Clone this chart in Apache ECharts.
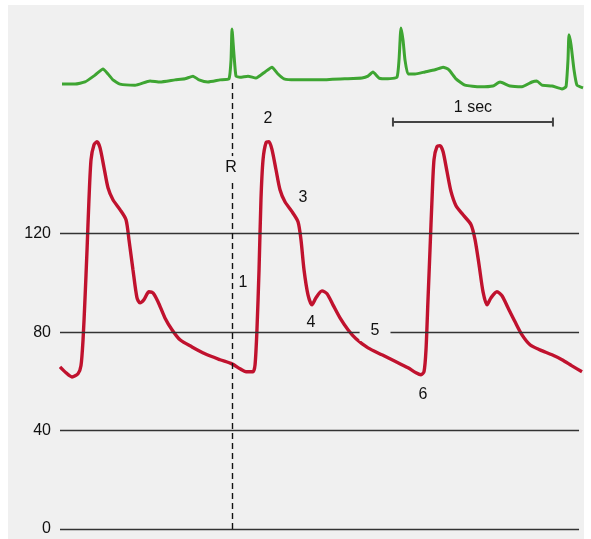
<!DOCTYPE html>
<html><head><meta charset="utf-8">
<script src="https://cdn.jsdelivr.net/npm/echarts@6/dist/echarts.min.js"></script>
<style>
html,body{margin:0;padding:0;background:#fff;}
#wrap{position:relative;width:591px;height:539px;background:#fff;}
#bg{position:absolute;left:8px;top:5px;width:576px;height:534px;background:#f0f0f0;}
#chart{position:absolute;left:0;top:0;width:591px;height:539px;}
</style></head>
<body><div id="wrap"><div id="bg"></div><div id="chart"></div></div>
<script>
// Time in seconds, pressure in mmHg
const pressureT = [0,.0375,.075,.1125,.131,.144,.156,.169,.181,.194,.2125,.231,.25,.275,.3,.331,.375,.4125,.431,.456,.481,.5,.525,.556,.581,.6125,.656,.7,.75,.825,.906,1.0,1.075,1.125,1.1625,1.206,1.219,
 1.231,1.244,1.256,1.269,1.2875,1.306,1.325,1.35,1.375,1.406,1.45,1.4875,1.506,1.525,1.55,1.575,1.6,1.6375,1.669,1.706,1.75,1.8,1.85,1.925,2.0125,2.1,2.175,2.225,2.256,2.275,
 2.2875,2.3,2.3125,2.325,2.3375,2.356,2.375,2.394,2.419,2.444,2.475,2.519,2.569,2.594,2.619,2.644,2.669,2.694,2.731,2.7625,2.8,2.844,2.8875,2.9375,3.0,3.075,3.1375,3.2,3.2625];
const pressureV = [65.9,63.5,61.8,63.1,66.3,76.9,93.2,113.5,133.8,150.1,156.2,157.4,155,146.9,138.7,133.8,129.8,125.7,117.6,105.4,94,91.9,93.2,96.4,96,92.4,85.8,81,76.9,74,71.2,68.8,67.1,65.1,63.9,63.9,66.7,
 81,105.4,133.8,150.1,157,157.4,154.2,146,137.9,133,129,124.9,117.6,105.4,95.2,91.1,94,96.8,95.6,91.1,85.8,81,77.3,73.6,70.8,68,65.5,63.5,62.7,63.9,
 72.8,93.2,113.5,133.8,150.1,155.4,155.8,153.4,145.2,137.1,131.4,127.7,123.7,117.6,107.4,96.4,91.1,94,96.4,94.8,89.9,84.2,78.9,74.9,72.8,70.8,68.8,66.3,63.9];

// ECG, seconds and mV
const ecgT = [.0125,.094,.156,.219,.269,.3,.331,.375,.469,.5625,.625,.719,.781,.831,.869,.925,1.0,1.056,1.069,1.075,1.0875,1.1,1.125,1.175,1.225,1.281,1.325,1.3625,1.4,1.469,1.625,1.78,1.8875,1.925,1.956,1.994,2.05,2.106,2.119,2.131,2.144,2.156,2.175,2.219,2.281,2.344,2.394,2.431,2.475,2.531,2.625,2.706,2.75,2.8125,2.8875,2.95,2.98,3.0125,3.075,3.1375,3.1625,3.175,3.181,3.194,3.2125,3.231,3.269];
const ecgV = [-.04,-.04,0,.13,.245,.15,.04,-.04,-.06,.02,0,.04,.06,.11,.04,0,.04,.06,.42,1.0,.51,.11,.09,.11,.075,.19,.28,.15,.06,.04,.04,.06,.075,.11,.19,.075,.06,.09,.42,1.02,.79,.42,.15,.15,.19,.23,.28,.23,.06,-.06,-.09,-.075,0,-.075,-.09,0,.02,-.06,-.075,-.13,-.09,.42,.89,.70,.23,-.06,-.11];

const yTicks = [0, 40, 80, 120];
const rWaveT = 1.075;
const scaleBarT = [2.081, 3.081];
const scaleBarP = 165.4;

const annoLabels = ['R','1','2','3','4','5','6','1 sec'];
const annoT = [1.069,1.144,1.3,1.519,1.569,1.969,2.269,2.581];
const annoP = [146.7,100,166.6,134.5,83.7,80.5,54.5,171.1];

const xMax = 3.26875, lineEnd = 3.244;
const font = 'Liberation Sans, Arial, Helvetica, sans-serif';
const chart = echarts.init(document.getElementById('chart'));

const pressureData = pressureT.map((t,i)=>[t, pressureV[i]]);
const ecgData = ecgT.map((t,i)=>[t, ecgV[i]]);
const annoData = annoLabels.map((s,i)=>({value:[annoT[i], annoP[i]], name:s,
  label: s==='5' ? {padding:[2,11,2,11]} : (s==='R' ? {padding:[4,2,4,2]} : {backgroundColor:'transparent'})}));

chart.setOption({
  animation:false,
  backgroundColor:'transparent',
  grid:{left:60, right:8, top:0, bottom:10},
  xAxis:{type:'value', min:0, max:xMax, show:false},
  yAxis:[
    {type:'value', min:0, max:215, show:false},
    {type:'value', min:-8.434, max:1.547, show:false}
  ],
  series:[
    {type:'line', data:[], z:1, silent:true,
     markLine:{silent:true, symbol:['none','none'], animation:false,
       lineStyle:{color:'#333', width:1.4, type:'solid'},
       label:{show:true, position:'start', distance:9, formatter:'{b}', color:'#111', fontSize:16, fontFamily:font},
       data: yTicks.map(v=>[{coord:[0,v], name:String(v)},{coord:[lineEnd,v]}]).concat([
         [{coord:[rWaveT,0], lineStyle:{type:[6,4], color:'#111', width:1.4}, label:{show:false}},{coord:[rWaveT,181.7]}]
       ])}
    },
    {type:'line', data:scaleBarT.map(t=>[t,scaleBarP]), z:2, silent:true,
     symbol:'rect', symbolSize:[2,9], itemStyle:{color:'#444'}, lineStyle:{color:'#444', width:2}},
    {type:'line', data:pressureData, z:3, symbol:'none', smooth:0.25, silent:true,
     lineStyle:{color:'#c0122e', width:3.4}},
    {type:'line', yAxisIndex:1, data:ecgData, z:3, symbol:'none', smooth:0.15, silent:true, clip:false,
     lineStyle:{color:'#3ea532', width:3}},
    {type:'scatter', data:annoData, z:5, symbolSize:0, silent:true, itemStyle:{color:'#111', opacity:1},
     label:{show:true, position:'inside', formatter:'{b}', color:'#111', fontSize:16, fontFamily:font,
       textBorderWidth:0, textBorderColor:'transparent', textShadowBlur:0,
       backgroundColor:'#f0f0f0', padding:[1,2,1,2]}}
  ]
});
</script></body></html>
